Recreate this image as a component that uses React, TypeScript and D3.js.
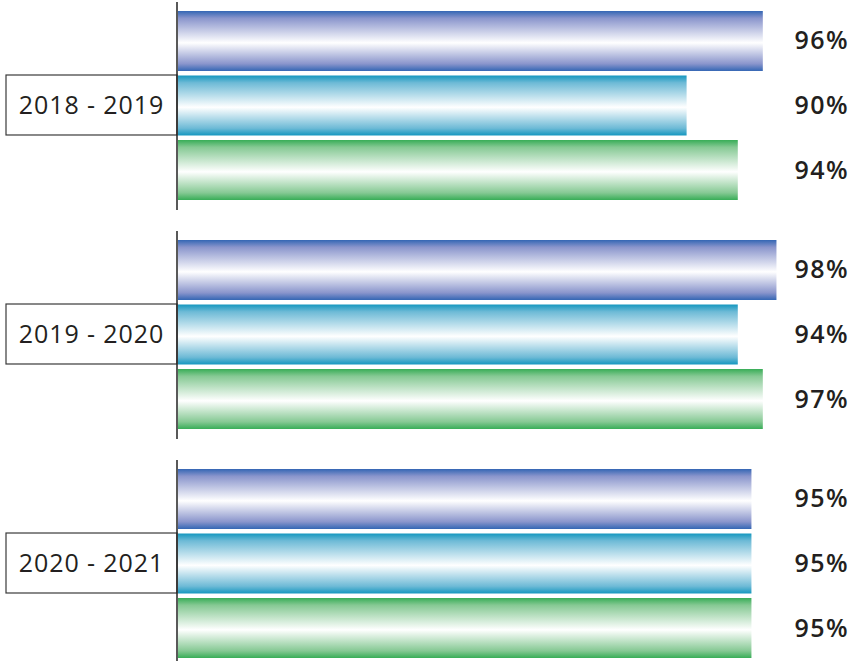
import React from "react";
import * as d3 from "d3";

const years = ["2018 - 2019", "2019 - 2020", "2020 - 2021"];
const seriesKeys = ["blue", "teal", "green"];
const values2018 = [96.5, 89.8, 94.3];
const values2019 = [97.7, 94.3, 96.5];
const values2020 = [95.5, 95.5, 95.5];
const labels2018 = ["96%", "90%", "94%"];
const labels2019 = ["98%", "94%", "97%"];
const labels2020 = ["95%", "95%", "95%"];

const allValues = [values2018, values2019, values2020];
const allLabels = [labels2018, labels2019, labels2020];

const gradients: Record<string, { edge: string; mid: string }> = {
  blue: { edge: "#3466b4", mid: "#8a95cc" },
  teal: { edge: "#1597bf", mid: "#6dbad6" },
  green: { edge: "#38ad57", mid: "#86c994" },
};

const W = 860;
const H = 661;
const axisX = 177;

export default function App() {
  const x = d3.scaleLinear().domain([45, 100]).range([axisX, axisX + 55 * 11.375]);
  const yGroup = d3.scaleBand<string>().domain(years).range([11, 658]).paddingInner(0.1747).paddingOuter(0);
  const ySeries = d3
    .scaleBand<string>()
    .domain(seriesKeys)
    .range([0, yGroup.bandwidth()])
    .paddingInner(0.07)
    .paddingOuter(0);

  return (
    <svg
      width={W}
      height={H}
      style={{ position: "absolute", left: 0, top: 0, display: "block", background: "#fff" }}
    >
      <defs>
        {seriesKeys.map((k) => (
          <linearGradient key={k} id={`g-${k}`} x1="0" y1="0" x2="0" y2="1">
            <stop offset="0" stopColor={gradients[k].edge} />
            <stop offset="0.12" stopColor={gradients[k].mid} />
            <stop offset="0.53" stopColor="#ffffff" />
            <stop offset="0.88" stopColor={gradients[k].mid} />
            <stop offset="1" stopColor={gradients[k].edge} />
          </linearGradient>
        ))}
      </defs>
      {years.map((yr, gi) => {
        const gy = yGroup(yr)!;
        const bw = ySeries.bandwidth();
        const midY = gy + ySeries(seriesKeys[1])!;
        return (
          <g key={yr}>
            {seriesKeys.map((k, si) => {
              const by = gy + ySeries(k)!;
              const v = allValues[gi][si];
              return (
                <g key={k}>
                  <rect
                    x={axisX + 1}
                    y={by}
                    width={x(v) - axisX - 1}
                    height={bw}
                    fill={`url(#g-${k})`}
                  />
                  <text
                    x={849}
                    y={by + bw / 2 + 8.5}
                    textAnchor="end"
                    fontFamily="'Open Sans', sans-serif"
                    fontWeight={600}
                    fontSize={25}
                    letterSpacing={1.4}
                    fill="#231f20"
                  >
                    {allLabels[gi][si]}
                  </text>
                </g>
              );
            })}
            <rect
              x={6}
              y={midY - 0.5}
              width={axisX - 6}
              height={bw}
              fill="#fff"
              stroke="#3a3a3a"
              strokeWidth={1.2}
            />
            <text
              x={(6 + axisX) / 2}
              y={midY + bw / 2 + 8.5}
              textAnchor="middle"
              fontFamily="'Open Sans', sans-serif"
              fontWeight={400}
              fontSize={25}
              letterSpacing={0.9}
              fill="#231f20"
            >
              {yr}
            </text>
            <line
              x1={axisX}
              x2={axisX}
              y1={gy - 9}
              y2={gy + yGroup.bandwidth() + 10}
              stroke="#222"
              strokeWidth={1.5}
            />
          </g>
        );
      })}
    </svg>
  );
}
